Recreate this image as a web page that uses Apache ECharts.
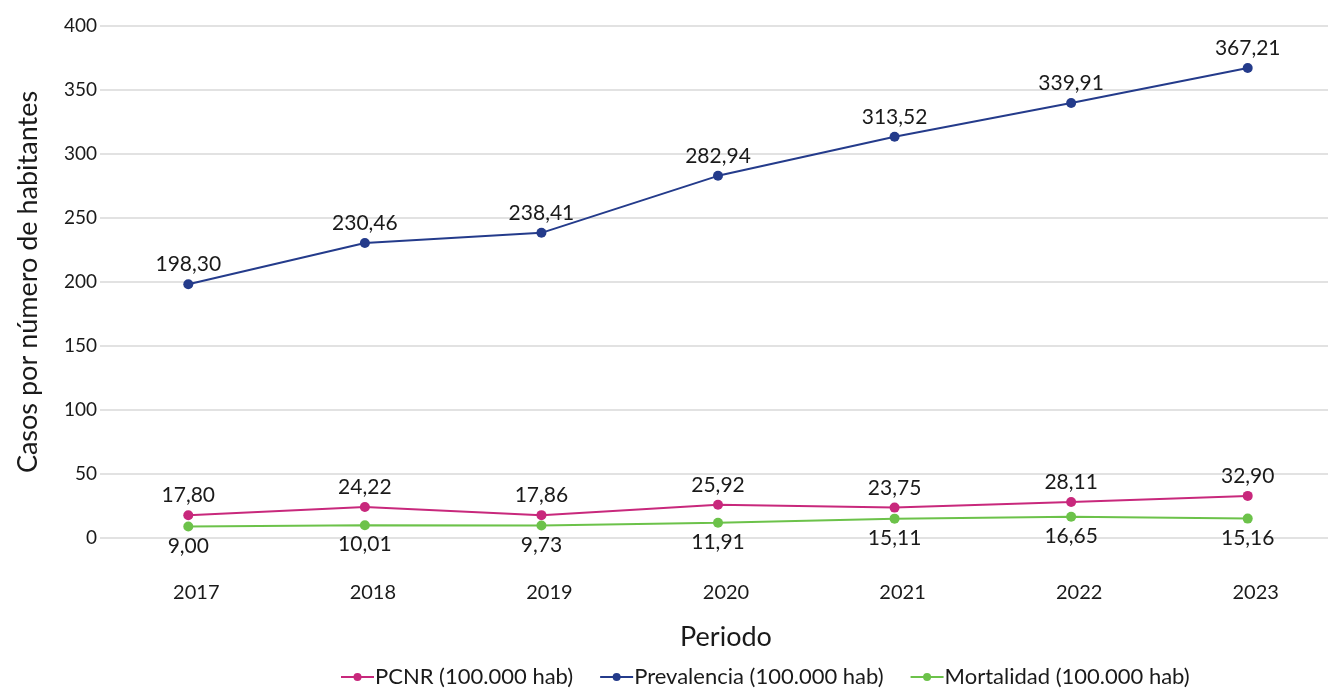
<!DOCTYPE html>
<html><head><meta charset="utf-8">
<script src="https://cdn.jsdelivr.net/npm/echarts@6/dist/echarts.min.js"></script>
<style>html,body{margin:0;padding:0;background:#fff}#c{width:1328px;height:690px}</style>
</head><body><div id="c"></div>
<script>
const categories = ['2017','2018','2019','2020','2021','2022','2023'];
const pcnr = [17.80, 24.22, 17.86, 25.92, 23.75, 28.11, 32.90];
const prevalencia = [198.30, 230.46, 238.41, 282.94, 313.52, 339.91, 367.21];
const mortalidad = [9.00, 10.01, 9.73, 11.91, 15.11, 16.65, 15.16];
const yTicks = [0, 50, 100, 150, 200, 250, 300, 350, 400];

const FONT = 'Lato';
const fmt = p => p.value.toFixed(2).replace('.', ',');
const chart = echarts.init(document.getElementById('c'));
function mk(name, data, color, pos) {
  return {
    name, type: 'line', data, color,
    symbol: 'circle', symbolSize: 10,
    lineStyle: { width: 2, color },
    itemStyle: { color },
    label: { show: true, position: pos, distance: 4, formatter: fmt,
      fontFamily: FONT, fontSize: 21, color: '#1a1a1a' }
  };
}
chart.setOption({
  animation: false,
  textStyle: { fontFamily: FONT },
  grid: { left: 100, top: 26, width: 1236, height: 512, containLabel: false, outerBoundsMode: 'none' },
  legend: {
    top: 661, left: 335, itemGap: 26, itemWidth: 33, itemHeight: 10,
    textStyle: { fontFamily: FONT, fontSize: 22, color: '#1a1a1a', padding: [0, 0, 0, -4] },
    data: ['PCNR (100.000 hab)', 'Prevalencia (100.000 hab)', 'Mortalidad (100.000 hab)']
  },
  xAxis: {
    type: 'category', data: categories, boundaryGap: true,
    name: 'Periodo', nameLocation: 'middle', nameGap: 86,
    nameTextStyle: { fontFamily: FONT, fontSize: 27, color: '#1a1a1a', padding: [0, 0, 0, 16] },
    axisLine: { show: false }, axisTick: { show: false },
    axisLabel: { margin: 45, fontFamily: FONT, fontSize: 20, color: '#1a1a1a', padding: [0, 0, 0, 16] }
  },
  yAxis: {
    type: 'value', min: yTicks[0], max: yTicks[yTicks.length - 1], interval: 50,
    name: 'Casos por número de habitantes', nameLocation: 'middle', nameGap: 58,
    nameTextStyle: { fontFamily: FONT, fontSize: 27, color: '#1a1a1a' },
    axisLine: { show: false }, axisTick: { show: false },
    axisLabel: { margin: 3, fontFamily: FONT, fontSize: 19, color: '#1a1a1a' },
    splitLine: { lineStyle: { color: '#d9d9d9', width: 1.5 } }
  },
  series: [
    mk('PCNR (100.000 hab)', pcnr, '#C8287C', 'top'),
    mk('Prevalencia (100.000 hab)', prevalencia, '#243B8B', 'top'),
    mk('Mortalidad (100.000 hab)', mortalidad, '#6CC24A', 'bottom')
  ]
});
</script></body></html>
